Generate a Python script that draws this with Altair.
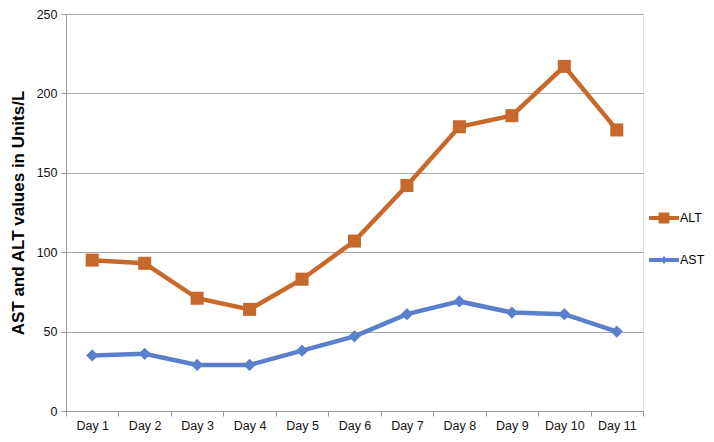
import altair as alt
import pandas as pd

days = ["Day 1", "Day 2", "Day 3", "Day 4", "Day 5", "Day 6", "Day 7", "Day 8", "Day 9", "Day 10", "Day 11"]
alt_vals = [95, 93, 71, 64, 83, 107, 142, 179, 186, 217, 177]
ast_vals = [35, 36, 29, 29, 38, 47, 61, 69, 62, 61, 50]
series = ["ALT", "AST"]
colors = ["#C8692C", "#5B80CB"]

rows = []
for d, v in zip(days, alt_vals):
    rows.append({"day": d, "value": v, "series": "ALT"})
for d, v in zip(days, ast_vals):
    rows.append({"day": d, "value": v, "series": "AST"})
df = pd.DataFrame(rows)

FONT = "Liberation Sans"

x = alt.X("day:N", sort=days, title=None,
          scale=alt.Scale(type="band", domain=days, paddingInner=0, paddingOuter=0),
          axis=alt.Axis(tickBand="extent", grid=False, labelAngle=0, labelFont=FONT,
                        labelFontSize=12.5, labelColor="#111", labelPadding=3,
                        domainColor="#9a9a9a", tickColor="#9a9a9a", tickSize=5))
y = alt.Y("value:Q", title="AST and ALT values in Units/L",
          scale=alt.Scale(domain=[0, 250], nice=False),
          axis=alt.Axis(values=[0, 50, 100, 150, 200, 250], grid=True, gridColor="#a8a8a8",
                        domainColor="#9a9a9a", tickColor="#9a9a9a", tickSize=5,
                        labelFont=FONT, labelFontSize=12.5, labelColor="#111", labelPadding=4,
                        titleFont=FONT, titleFontSize=17, titleFontWeight="bold",
                        titleColor="#000", titlePadding=9))

color_scale = alt.Scale(domain=series, range=colors)

alt_path = "M-1,-0.13H-0.36V-0.36H0.36V-0.13H1V0.13H0.36V0.36H-0.36V0.13H-1Z"
ast_path = "M-1,-0.13H-0.1L0,-0.3L0.1,-0.13H1V0.13H0.1L0,0.3L-0.1,0.13H-1Z"

leg = alt.Legend(title=None, orient="none", legendX=583, legendY=189,
                 symbolSize=900, symbolOpacity=1, symbolStrokeWidth=0,
                 symbolType=alt_path,
                 labelFont=FONT, labelFontSize=12.5, labelColor="#000",
                 labelOffset=1, rowPadding=20)

color_enc = alt.Color("series:N", scale=color_scale, legend=leg)

# legend-only layer: draws no rows; the legend comes from the explicit scale domains
legend_layer = alt.Chart(df).transform_filter(alt.datum.value < 0).mark_point(
    filled=True, opacity=1).encode(
    x=x, y=y,
    color=color_enc,
    shape=alt.Shape("series:N", scale=alt.Scale(domain=series, range=[alt_path, ast_path]),
                    legend=leg),
)

lines = alt.Chart(df).mark_line(strokeWidth=4.5).encode(
    x=x, y=y,
    color=color_enc,
    detail="series:N",
)

pts_alt = alt.Chart(df).transform_filter(alt.datum.series == "ALT").mark_point(
    filled=True, opacity=1, shape="square", size=170).encode(
    x=x, y=y,
    color=color_enc,
)
pts_ast = alt.Chart(df).transform_filter(alt.datum.series == "AST").mark_point(
    filled=True, opacity=1, shape="diamond", size=150).encode(
    x=x, y=y,
    color=color_enc,
)

chart = alt.layer(legend_layer, lines, pts_alt, pts_ast).properties(
    width=577, height=397,
    autosize=alt.AutoSizeParams(type="none"),
    padding={"left": 58, "top": 6, "right": 63, "bottom": 23},
).configure_view(stroke=None).configure(background="white")

chart.save("out.html", embed_options={"renderer": "svg", "actions": False})
